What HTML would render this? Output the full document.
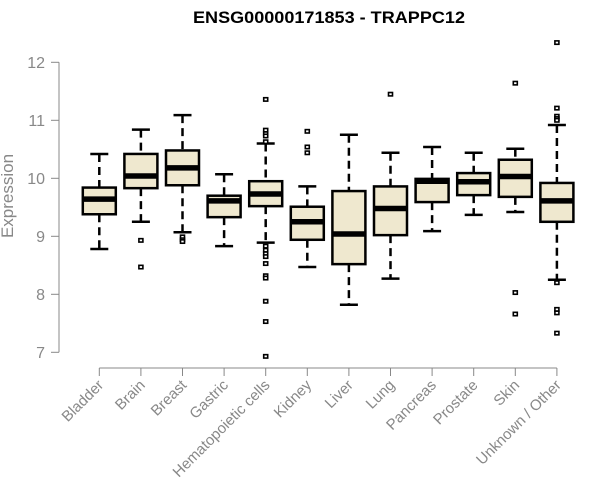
<!DOCTYPE html>
<html><head><meta charset="utf-8"><style>
body{margin:0;background:#fff;}
svg{display:block;font-family:"Liberation Sans",Arial,sans-serif;}
</style></head><body>
<svg id="chart" width="600" height="500" viewBox="0 0 600 500">
<text x="329" y="23" text-anchor="middle" font-weight="bold" font-size="17" textLength="272" lengthAdjust="spacingAndGlyphs" fill="#000">ENSG00000171853 - TRAPPC12</text>
<text x="0" y="0" transform="translate(13,196) rotate(-90)" text-anchor="middle" font-size="17" fill="#888">Expression</text>
<g id="axes"></g>
<g id="boxes"></g>
</svg>
<script>
const categories=["Bladder","Brain","Breast","Gastric","Hematopoietic cells","Kidney","Liver","Lung","Pancreas","Prostate","Skin","Unknown / Other"];
const whiskerHigh=[10.42,10.84,11.09,10.07,10.60,9.86,10.75,10.44,10.54,10.44,10.51,10.92];
const q3=[9.84,10.42,10.48,9.70,9.95,9.51,9.78,9.86,9.99,10.09,10.32,9.92];
const medians=[9.64,10.04,10.18,9.61,9.73,9.25,9.04,9.48,9.95,9.94,10.03,9.61];
const q1=[9.38,9.83,9.88,9.33,9.52,8.94,8.52,9.02,9.59,9.71,9.68,9.25];
const whiskerLow=[8.78,9.25,9.07,8.83,8.89,8.47,7.82,8.27,9.09,9.37,9.42,8.25];
const outliers=[[],[8.93,8.47],[8.99,8.94,8.91],[],
[11.36,10.83,10.77,10.73,10.63,8.83,8.76,8.70,8.65,8.53,8.32,8.28,7.88,7.53,6.93],
[10.81,10.54,10.44],[],[11.45],[],[],[11.64,8.03,7.66],
[12.34,11.21,11.07,11.03,11.0,8.20,7.74,7.68,7.33]];
const yTicks=[7,8,9,10,11,12];

const NS="http://www.w3.org/2000/svg";
function y(v){return 352.3-(v-7)*58;}
function x(i){return 99.3+i*41.6;}
function mk(tag,attrs,parent){const e=document.createElementNS(NS,tag);for(const k in attrs)e.setAttribute(k,attrs[k]);parent.appendChild(e);return e;}
const axes=document.getElementById('axes'), boxes=document.getElementById('boxes');

let yl=mk('line',{x1:59,x2:59,y1:y(yTicks[yTicks.length-1]),y2:y(yTicks[0]),stroke:'#888','stroke-width':1},axes);


yTicks.forEach(t=>{
  let l=mk('line',{x1:51,x2:59,y1:y(t),y2:y(t),stroke:'#888'},axes);
  
  
  let tx=mk('text',{x:45,y:y(t)+5.5,'text-anchor':'end','font-size':16,fill:'#888'},axes);
  tx.textContent=t;
  
  
});
let xl=mk('line',{x1:x(0),x2:x(categories.length-1),y1:368,y2:368,stroke:'#888'},axes);


categories.forEach((c,i)=>{
  let l=mk('line',{x1:x(i),x2:x(i),y1:368,y2:376,stroke:'#888'},axes);
  
  
  let tx=mk('text',{x:0,y:0,transform:`translate(${x(i)+5},${386}) rotate(-45)`,'text-anchor':'end','font-size':15,fill:'#888'},axes);
  tx.textContent=c;
  
  

  const g=mk('g',{},boxes);
  
  
  const cx=x(i);
  mk('line',{x1:cx,x2:cx,y1:y(whiskerHigh[i]),y2:y(q3[i]),stroke:'#000','stroke-width':2.5,'stroke-dasharray':'8,5'},g);
  mk('line',{x1:cx,x2:cx,y1:y(q1[i]),y2:y(whiskerLow[i]),stroke:'#000','stroke-width':2.5,'stroke-dasharray':'8,5'},g);
  mk('line',{x1:cx-9,x2:cx+9,y1:y(whiskerHigh[i]),y2:y(whiskerHigh[i]),stroke:'#000','stroke-width':2.5},g);
  mk('line',{x1:cx-9,x2:cx+9,y1:y(whiskerLow[i]),y2:y(whiskerLow[i]),stroke:'#000','stroke-width':2.5},g);
  mk('rect',{x:cx-16.5,y:y(q3[i]),width:33,height:y(q1[i])-y(q3[i]),fill:'#efe8cf',stroke:'#000','stroke-width':2.5},g);
  mk('line',{x1:cx-16.5,x2:cx+16.5,y1:y(medians[i]),y2:y(medians[i]),stroke:'#000','stroke-width':5.5},g);
  outliers[i].forEach(v=>{
    const p=mk('rect',{x:cx-2,y:y(v)-1.7,width:4,height:3.4,fill:'#fff',stroke:'#000','stroke-width':1.6},g);
    
    
  });
});
</script>
</body></html>
